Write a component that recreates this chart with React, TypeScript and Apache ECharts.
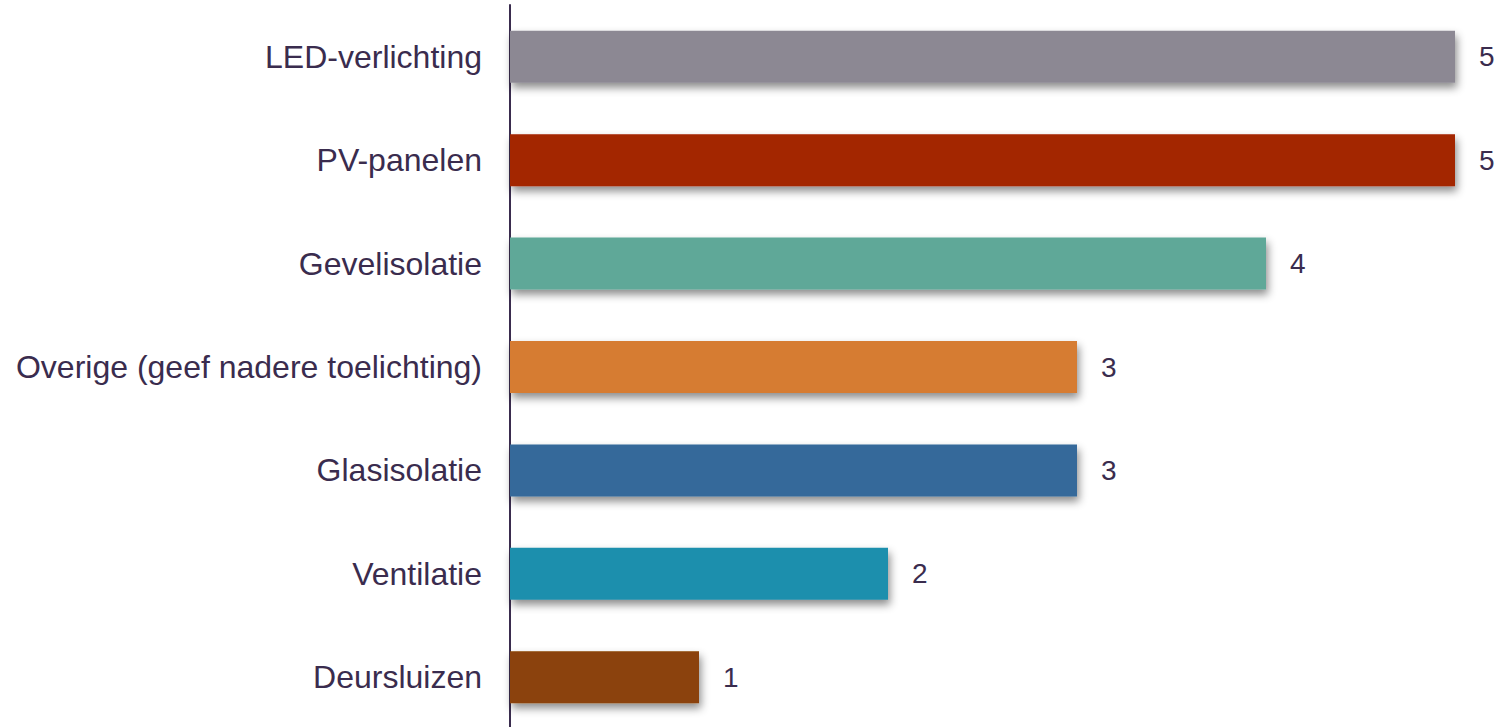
import React, { useEffect, useRef } from "react";
import * as echarts from "echarts";

const categories = [
  "LED-verlichting",
  "PV-panelen",
  "Gevelisolatie",
  "Overige (geef nadere toelichting)",
  "Glasisolatie",
  "Ventilatie",
  "Deursluizen",
];
const values = [5, 5, 4, 3, 3, 2, 1];
const palette = ["#8C8893", "#A32500", "#5FA898", "#D67B33", "#35699A", "#1F8FAD", "#8B4309"];

const textColor = "#3A2C4E";

export default function App() {
  const ref = useRef<HTMLDivElement>(null);
  useEffect(() => {
    document.body.style.margin = "0";
    const chart = echarts.init(ref.current!, null, { renderer: "svg" });
    chart.setOption({
      animation: false,
      grid: { left: 510, right: 46, top: 5, bottom: 0, containLabel: false },
      xAxis: {
        type: "value",
        min: 0,
        max: 5,
        show: false,
      },
      yAxis: {
        type: "category",
        data: categories,
        inverse: true,
        axisLine: { show: true, lineStyle: { color: textColor, width: 2 } },
        axisTick: { show: false },
        axisLabel: {
          color: textColor,
          fontFamily: "'Liberation Sans', Arial, sans-serif",
          fontSize: 32,
          margin: 28,
        },
      },
      series: [
        {
          type: "bar",
          barWidth: 52,
          data: values.map((v, i) => ({
            value: v,
            itemStyle: {
              color: palette[i],
              shadowColor: "rgba(0,0,0,0.45)",
              shadowBlur: 8,
              shadowOffsetX: 2,
              shadowOffsetY: 5,
            },
          })),
          label: {
            show: true,
            position: "right",
            distance: 24,
            color: textColor,
            fontFamily: "'Liberation Sans', Arial, sans-serif",
            fontSize: 28,
          },
        },
      ],
    });
    return () => chart.dispose();
  }, []);
  return <div ref={ref} style={{ position: "absolute", left: 0, top: 0, width: 1501, height: 729 }} />;
}
